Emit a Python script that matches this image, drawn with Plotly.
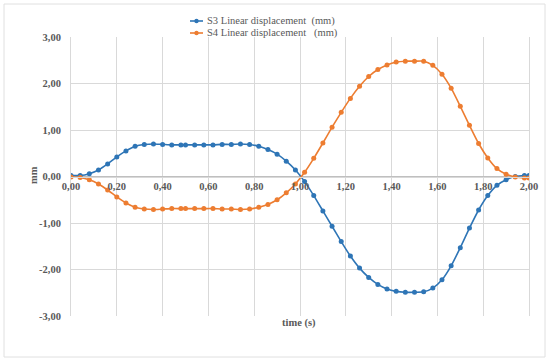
import plotly.graph_objects as go

time_s = [0.00, 0.04, 0.08, 0.12, 0.16, 0.20, 0.24, 0.28, 0.32, 0.36, 0.40, 0.44, 0.48,
          0.50, 0.54, 0.58, 0.62, 0.66, 0.70, 0.74, 0.78, 0.82, 0.86, 0.90, 0.94, 0.98,
          1.02, 1.06, 1.10, 1.14, 1.18, 1.22, 1.26, 1.30, 1.34, 1.38, 1.42, 1.46, 1.50,
          1.54, 1.58, 1.62, 1.66, 1.70, 1.74, 1.78, 1.82, 1.86, 1.90, 1.94, 1.98, 2.00]

s3_mm = [0.02, 0.02, 0.06, 0.14, 0.27, 0.42, 0.55, 0.65, 0.69, 0.70, 0.69, 0.68, 0.68,
         0.68, 0.68, 0.68, 0.68, 0.69, 0.69, 0.70, 0.69, 0.65, 0.58, 0.48, 0.33, 0.14,
         -0.11, -0.41, -0.74, -1.07, -1.40, -1.71, -1.97, -2.17, -2.32, -2.42, -2.47, -2.49, -2.49,
         -2.48, -2.40, -2.22, -1.92, -1.53, -1.11, -0.72, -0.41, -0.19, -0.07, 0.00, 0.02, 0.02]

s4_mm = [-0.01, -0.02, -0.07, -0.16, -0.29, -0.44, -0.57, -0.66, -0.70, -0.71, -0.70, -0.69, -0.69,
         -0.69, -0.69, -0.69, -0.69, -0.70, -0.70, -0.71, -0.70, -0.66, -0.60, -0.50, -0.35, -0.16,
         0.09, 0.39, 0.72, 1.06, 1.38, 1.68, 1.94, 2.15, 2.30, 2.40, 2.46, 2.48, 2.48,
         2.48, 2.39, 2.20, 1.90, 1.51, 1.10, 0.71, 0.40, 0.17, 0.05, -0.01, -0.03, -0.03]

x_ticks = [0.0, 0.2, 0.4, 0.6, 0.8, 1.0, 1.2, 1.4, 1.6, 1.8, 2.0]
y_ticks = [-3, -2, -1, 0, 1, 2, 3]
x_labels = ["0,00", "0,20", "0,40", "0,60", "0,80", "1,00", "1,20", "1,40", "1,60", "1,80", "2,00"]
y_labels = ["-3,00", "-2,00", "-1,00", "0,00", "1,00", "2,00", "3,00"]

series_names = ["S3 Linear displacement\u00a0\u00a0(mm)", "S4 Linear displacement\u00a0\u00a0\u00a0(mm)"]
colors = ["#2e75b6", "#ed7d31"]

FONT = "Liberation Serif"
GRAY = "#595959"
GRID = "#d9d9d9"

# plot area in pixels (for converting decoration positions)
L, R, T, B, W, H = 71, 21, 37, 47, 550, 363
PW, PH = W - L - R, H - T - B


def px(x):
    return (x - L) / PW


def py(y):
    return (H - B - y) / PH


fig = go.Figure()
for name, ys, c in zip(series_names, [s3_mm, s4_mm], colors):
    fig.add_trace(go.Scatter(
        x=time_s, y=ys, name=name, mode="lines+markers",
        line=dict(color=c, width=1.6, shape="spline", smoothing=0.6),
        marker=dict(color=c, size=5),
        showlegend=False,
    ))

fig.update_layout(
    width=W, height=H,
    margin=dict(l=L, r=R, t=T, b=B, autoexpand=False),
    paper_bgcolor="white", plot_bgcolor="white",
    font=dict(family=FONT, color=GRAY, size=10),
    showlegend=False,
)

fig.update_xaxes(
    range=[0, 2], tickvals=x_ticks, ticktext=x_labels,
    showgrid=True, gridcolor=GRID, gridwidth=1,
    showline=True, linecolor=GRID, mirror=True,
    zeroline=False,
    anchor="free", position=0.5,
    tickfont=dict(family=FONT, size=10.5, color=GRAY, weight="bold"),
    ticks="",
)
fig.update_yaxes(
    range=[-3, 3], tickvals=y_ticks, ticktext=y_labels,
    showgrid=True, gridcolor=GRID, gridwidth=1,
    showline=True, linecolor=GRID, mirror=True,
    zeroline=True, zerolinecolor="#bfbfbf", zerolinewidth=1,
    tickfont=dict(family=FONT, size=10.5, color=GRAY, weight="bold"),
    ticks="", ticklabelstandoff=7,
)

fig.add_annotation(text="mm", xref="paper", yref="paper", x=px(33), y=py(175),
                   xanchor="center", yanchor="middle",
                   showarrow=False, textangle=-90,
                   font=dict(family=FONT, size=10.5, color=GRAY, weight="bold"))
fig.add_annotation(text="time (s)", xref="paper", yref="paper", x=px(299), y=py(323),
                   xanchor="center", yanchor="middle",
                   showarrow=False,
                   font=dict(family=FONT, size=10.5, color=GRAY, weight="bold"))

# legend (compact, Excel-like)
for name, c, yc in zip(series_names, colors, [21, 33]):
    fig.add_shape(type="line", xref="paper", yref="paper",
                  x0=px(190), x1=px(203), y0=py(yc), y1=py(yc),
                  line=dict(color=c, width=1.6))
    fig.add_shape(type="circle", xref="paper", yref="paper",
                  x0=px(194.3), x1=px(198.7), y0=py(yc + 2.2), y1=py(yc - 2.2),
                  line=dict(color=c, width=0), fillcolor=c)
    fig.add_annotation(text=name, xref="paper", yref="paper", x=px(205), y=py(yc),
                       xanchor="left", yanchor="middle", showarrow=False,
                       font=dict(family=FONT, size=10.5, color=GRAY))

fig.add_shape(type="rect", xref="paper", yref="paper",
              x0=px(4), x1=px(545), y0=py(357), y1=py(4),
              line=dict(color="#e0e0e0", width=1), layer="below")

fig.write_html("out.html", config={"displayModeBar": False},
               post_script="document.body.style.margin='0';")
